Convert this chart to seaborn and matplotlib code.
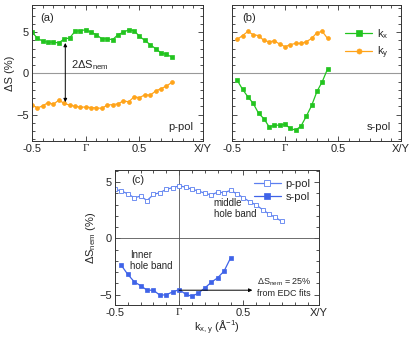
import numpy as np
import pandas as pd
import seaborn as sns
import matplotlib
matplotlib.use("Agg")
import matplotlib.pyplot as plt
from matplotlib.ticker import MultipleLocator

sns.set_theme(style="ticks")
plt.rcParams['font.family'] = ['Liberation Sans', 'DejaVu Sans']
plt.rcParams['mathtext.default'] = 'regular'

# ---------------- data ----------------
x_a = [-0.50, -0.45, -0.40, -0.35, -0.30, -0.25, -0.20, -0.15, -0.10, -0.05, 0.00,
       0.05, 0.10, 0.15, 0.20, 0.25, 0.30, 0.35, 0.40, 0.45, 0.50, 0.55, 0.60,
       0.65, 0.70, 0.75, 0.80]
a_kx = [5.0, 4.3, 3.9, 3.8, 3.8, 3.7, 4.2, 4.3, 5.1, 5.2, 5.3, 5.0, 4.7, 4.2,
        4.2, 4.1, 4.7, 5.0, 5.3, 5.2, 4.5, 4.0, 3.5, 3.0, 2.5, 2.3, 2.0]
a_ky = [-3.85, -4.2, -3.95, -3.55, -3.75, -3.25, -3.65, -3.85, -4.0, -4.1, -4.1,
        -4.15, -4.2, -4.25, -3.85, -3.8, -3.7, -3.35, -3.45, -2.85, -2.95, -2.6,
        -2.65, -2.15, -1.85, -1.55, -1.1]

x_b = [-0.45, -0.40, -0.35, -0.30, -0.25, -0.20, -0.15, -0.10, -0.05, 0.00,
       0.05, 0.10, 0.15, 0.20, 0.25, 0.30, 0.35, 0.40]
b_kx = [-0.85, -1.95, -2.85, -3.65, -4.85, -5.5, -6.5, -6.3, -6.3, -6.2, -6.7,
        -6.9, -6.4, -5.2, -3.9, -2.2, -1.0, 0.55]
b_ky = [4.15, 4.6, 5.1, 4.7, 4.6, 4.0, 3.85, 3.95, 3.55, 3.25, 3.5, 3.65, 3.65,
        3.85, 4.25, 4.95, 5.1, 4.25]

c_ppol = [4.35, 4.2, 3.95, 3.6, 3.75, 3.35, 3.9, 4.05, 4.35, 4.5, 4.65, 4.55,
          4.35, 4.2, 4.0, 3.85, 4.1, 4.05, 4.25, 3.95, 3.6, 3.25, 2.95, 2.55,
          2.15, 1.85, 1.5]
c_spol = [-2.4, -3.2, -3.85, -4.2, -4.6, -4.6, -5.05, -5.0, -4.75, -4.55, -4.95,
          -5.15, -4.85, -4.4, -3.9, -3.5, -2.9, -1.75]

tick_pos = [-0.5, 0.0, 0.5, 1.09]
tick_lab = ['-0.5', 'Γ', '0.5', 'X/Y']

green = '#22c41f'
orange = '#ffa41a'
blue = '#3f63e8'
blue_light = '#5b7ff0'

fig = plt.figure(figsize=(4.15, 3.41), dpi=100)
ax_a = fig.add_axes([0.077, 0.587, 0.412, 0.398])
ax_b = fig.add_axes([0.559, 0.587, 0.407, 0.398])
ax_c = fig.add_axes([0.277, 0.106, 0.492, 0.395])

FS = 8

def style(ax, ylim, ylab=True):
    ax.set_xlim(-0.5, 1.09)
    ax.set_ylim(*ylim)
    ax.set_xticks(tick_pos)
    ax.set_xticklabels(tick_lab)
    for t in ax.get_xticklabels():
        if t.get_text() == 'Γ':
            t.set_fontfamily('Liberation Serif')
            t.set_fontsize(FS + 1)
    ax.xaxis.set_minor_locator(MultipleLocator(0.1))
    ax.yaxis.set_minor_locator(MultipleLocator(1))
    ax.set_yticks([-5, 0, 5])
    if not ylab:
        ax.set_yticklabels([])
    ax.tick_params(which='both', direction='in', top=True, right=True,
                   labelsize=FS, width=0.6, color='#333333', pad=2)
    ax.tick_params(which='major', length=3.5)
    ax.tick_params(which='minor', length=2)
    for s in ax.spines.values():
        s.set_linewidth(0.7)
        s.set_color('#333333')
    ax.set_xlabel('')
    ax.set_ylabel('')

lw = 0.9
ms = 2.8

# ---------------- panel (a) ----------------
ax_a.axhline(0, color='#999999', lw=0.8, zorder=1)
sns.lineplot(x=x_a, y=a_kx, ax=ax_a, color=green, marker='s', ms=ms, lw=lw,
             markeredgecolor=green, markeredgewidth=0.5)
sns.lineplot(x=x_a, y=a_ky, ax=ax_a, color=orange, marker='o', ms=ms, lw=lw,
             markeredgecolor=orange, markeredgewidth=0.5)
style(ax_a, (-8.2, 8.3))
ax_a.set_ylabel('ΔS (%)', fontsize=FS, labelpad=1)
ax_a.annotate('', xy=(-0.19, 3.7), xytext=(-0.19, -3.5),
              arrowprops=dict(arrowstyle='<|-|>', color='black', lw=0.7,
                              mutation_scale=5, shrinkA=0, shrinkB=0))
ax_a.text(-0.14, 1.0, r'2ΔS$_{nem}$', fontsize=FS, va='center', ha='left')
ax_a.text(0.088, 0.905, '(a)', transform=ax_a.transAxes, fontsize=FS, ha='center', va='center')
ax_a.text(0.87, 0.1, 'p-pol', transform=ax_a.transAxes, fontsize=FS, ha='center', va='center')

# ---------------- panel (b) ----------------
ax_b.axhline(0, color='#999999', lw=0.8, zorder=1)
sns.lineplot(x=x_b, y=b_kx, ax=ax_b, color=green, marker='s', ms=ms, lw=lw,
             markeredgecolor=green, markeredgewidth=0.5, label=r'k$_x$')
sns.lineplot(x=x_b, y=b_ky, ax=ax_b, color=orange, marker='o', ms=ms, lw=lw,
             markeredgecolor=orange, markeredgewidth=0.5, label=r'k$_y$')
style(ax_b, (-8.2, 8.3), ylab=False)
leg = ax_b.legend(loc='upper right', frameon=False, fontsize=FS, handlelength=2.4,
                  handletextpad=0.4, labelspacing=0.3, borderaxespad=0.6,
                  bbox_to_anchor=(0.99, 0.92), markerscale=1.3)

ax_b.text(0.1, 0.905, '(b)', transform=ax_b.transAxes, fontsize=FS, ha='center', va='center')
ax_b.text(0.87, 0.1, 's-pol', transform=ax_b.transAxes, fontsize=FS, ha='center', va='center')

# ---------------- panel (c) ----------------
ax_c.axhline(0, color='#555555', lw=0.6, zorder=1)
ax_c.axvline(0, color='#555555', lw=0.6, zorder=1)
sns.lineplot(x=x_a, y=c_ppol, ax=ax_c, color=blue_light, marker='s', ms=ms, lw=lw,
             markerfacecolor='white', markeredgecolor=blue_light, markeredgewidth=0.6,
             label='p-pol')
sns.lineplot(x=x_b, y=c_spol, ax=ax_c, color=blue, marker='s', ms=ms, lw=lw,
             markeredgecolor=blue, markeredgewidth=0.5, label='s-pol')
style(ax_c, (-5.9, 6.05))
ax_c.set_ylabel(r'ΔS$_{nem}$ (%)', fontsize=FS, labelpad=1)
ax_c.set_xlabel(r'k$_{x,y}$ (Å$^{-1}$)', fontsize=FS, labelpad=1)
ax_c.legend(loc='upper right', frameon=False, fontsize=FS, handlelength=2.4,
            handletextpad=0.4, labelspacing=0.3, borderaxespad=0.4, markerscale=1.3)
ax_c.text(0.11, 0.925, '(c)', transform=ax_c.transAxes, fontsize=FS, ha='center', va='center')
ax_c.text(0.27, 2.65, 'middle\nhole band', fontsize=FS - 1, ha='left', va='center',
          linespacing=1.15)
ax_c.text(-0.38, -1.95, 'Inner\nhole band', fontsize=FS - 1, ha='left', va='center',
          linespacing=1.15)
ax_c.annotate('', xy=(0.57, -4.6), xytext=(0.0, -4.6),
              arrowprops=dict(arrowstyle='-|>', color='black', lw=0.7,
                              mutation_scale=5, shrinkA=0, shrinkB=0))
ax_c.text(0.61, -4.35, 'ΔS$_{nem}$ = 25%\nfrom EDC fits', fontsize=FS - 1.5,
          ha='left', va='center', linespacing=1.15)

fig.savefig('out.png', dpi=100)
